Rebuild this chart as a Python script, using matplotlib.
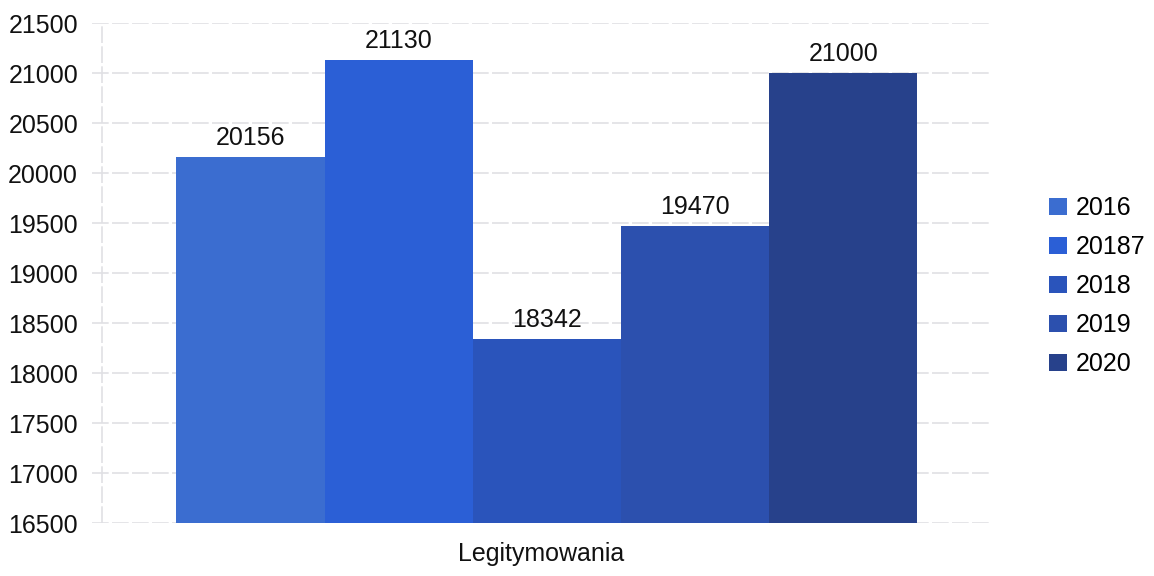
import matplotlib.pyplot as plt
import numpy as np

plt.rcParams['font.family'] = ['Liberation Sans', 'DejaVu Sans']

# dane
lata = ['2016', '20187', '2018', '2019', '2020']
wartosci = [20156, 21130, 18342, 19470, 21000]
kolory = ['#3b6dd0', '#2b5fd6', '#2a54bb', '#2c50ae', '#27418b']
yticks = [16500, 17000, 17500, 18000, 18500, 19000, 19500, 20000, 20500, 21000, 21500]

fig = plt.figure(figsize=(11.54, 5.76), dpi=100)
ax = fig.add_axes([92 / 1154, 1 - 523 / 576, (990 - 92) / 1154, 500 / 576])

x = np.arange(len(lata))
for i in range(len(lata)):
    ax.bar(x[i], wartosci[i] - 16500, bottom=16500, width=1.0,
           color=kolory[i], label=lata[i], zorder=2)
    ax.text(x[i], wartosci[i] + 70, str(wartosci[i]), ha='center', va='bottom',
            fontsize=18, color='#111111')

ax.set_ylim(16500, 21500)
ax.set_xlim(-1.07, 4.99)
ax.set_yticks(yticks)
ax.set_yticklabels([str(t) for t in yticks], fontsize=18, color='#111111')
ax.set_xticks([])
ax.grid(axis='y', color='#e0e0e4', linestyle=(0, (10, 2)), linewidth=1.2, zorder=0)
ax.axvline(-1.0, color='#e0e0e4', linestyle=(0, (10, 2)), linewidth=1.2, zorder=0)
for s in ax.spines.values():
    s.set_visible(False)
ax.tick_params(axis='y', length=0, pad=10)
ax.set_xlabel('Legitymowania', fontsize=18, color='#111111', labelpad=14)

ax.legend(loc='center left', bbox_to_anchor=(1.041, 0.474), frameon=False,
          fontsize=18, handlelength=0.7, handleheight=0.7, handletextpad=0.35,
          labelspacing=0.6)

fig.savefig('out.png', dpi=100)
